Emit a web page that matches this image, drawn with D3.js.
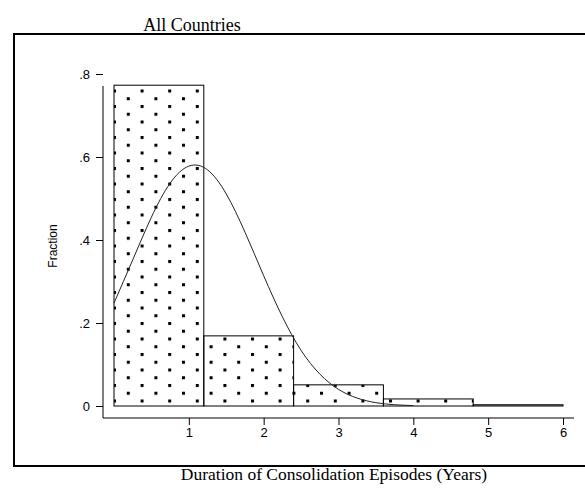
<!DOCTYPE html>
<html>
<head>
<meta charset="utf-8">
<script src="https://cdn.jsdelivr.net/npm/d3@7"></script>
<style>
  body { margin: 0; background: #fff; }
  svg { display: block; }
</style>
</head>
<body>
<div id="chart"></div>
<script>
// histogram bins (years) and fractions
const binStarts = [0, 1.2, 2.4, 3.6, 4.8];
const binEnds = [1.2, 2.4, 3.6, 4.8, 6.0];
const fractions = [0.773, 0.169, 0.051, 0.017, 0.003];

// fitted normal curve
const curveX = [0, 0.25, 0.5, 0.75, 1.0, 1.25, 1.5, 1.75, 2.0, 2.25, 2.5, 2.75, 3.0, 3.25, 3.5, 3.75, 4.0];
const curveY = [0.248, 0.352, 0.455, 0.537, 0.578, 0.569, 0.511, 0.419, 0.314, 0.215, 0.134, 0.077, 0.040, 0.019, 0.008, 0.003, 0.001];

const yTicks = [0, 0.2, 0.4, 0.6, 0.8];
const yTickLabels = ['0', '.2', '.4', '.6', '.8'];
const xTicks = [1, 2, 3, 4, 5, 6];

const title = 'All Countries';
const xTitle = 'Duration of Consolidation Episodes (Years)';
const yTitle = 'Fraction';

const width = 585, height = 493;
const serif = '"Liberation Serif", "Times New Roman", serif';
const sans = '"Liberation Sans", Arial, sans-serif';

const x = d3.scaleLinear().domain([0, 6]).range([114, 563]);
const y = d3.scaleLinear().domain([0, 0.8]).range([406, 74]);

const axisX = 103;   // y axis line position
const axisY = 418;   // x axis line position

const svg = d3.select('#chart').append('svg')
  .attr('width', width)
  .attr('height', height);

// dotted fill pattern
const defs = svg.append('defs');
const pat = defs.append('pattern')
  .attr('id', 'dots')
  .attr('patternUnits', 'userSpaceOnUse')
  .attr('x', 113)
  .attr('y', 399.5)
  .attr('width', 27.6)
  .attr('height', 15.5);
pat.append('rect').attr('x', 0).attr('y', 0).attr('width', 3).attr('height', 3).attr('fill', '#000');
pat.append('rect').attr('x', 13.8).attr('y', 7.75).attr('width', 3).attr('height', 3).attr('fill', '#000');

// outer frame (left, top, bottom)
svg.append('path')
  .attr('d', `M${width},34 H14 V466 H${width}`)
  .attr('fill', 'none')
  .attr('stroke', '#000')
  .attr('stroke-width', 2);

// title
svg.append('text')
  .attr('x', 192)
  .attr('y', 31)
  .attr('text-anchor', 'middle')
  .attr('font-family', serif)
  .attr('font-size', 18)
  .text(title);

// bars
const bars = binStarts.map((s, i) => ({ x0: s, x1: binEnds[i], v: fractions[i] }));
svg.append('g').selectAll('rect')
  .data(bars)
  .join('rect')
    .attr('x', d => x(d.x0))
    .attr('y', d => y(d.v))
    .attr('width', d => x(d.x1) - x(d.x0))
    .attr('height', d => y(0) - y(d.v))
    .attr('fill', 'url(#dots)')
    .attr('stroke', '#000')
    .attr('stroke-width', 1);

// normal curve
const line = d3.line()
  .x(d => x(d[0]))
  .y(d => y(d[1]))
  .curve(d3.curveNatural);
svg.append('path')
  .datum(curveX.map((v, i) => [v, curveY[i]]))
  .attr('d', line)
  .attr('fill', 'none')
  .attr('stroke', '#222')
  .attr('stroke-width', 1);

// y axis
const gy = svg.append('g')
  .attr('transform', `translate(${axisX},0)`)
  .call(d3.axisLeft(y).tickValues(yTicks).tickSize(7).tickPadding(6)
    .tickFormat((d, i) => yTickLabels[i]));
gy.select('.domain').remove();
gy.append('line')
  .attr('x1', 0).attr('x2', 0)
  .attr('y1', 86).attr('y2', axisY)
  .attr('stroke', '#000');
gy.selectAll('.tick line').attr('stroke', '#000');
gy.selectAll('.tick text')
  .attr('font-family', sans)
  .attr('font-size', 13)
  .attr('fill', '#000');

// x axis
const gx = svg.append('g')
  .attr('transform', `translate(0,${axisY})`)
  .call(d3.axisBottom(x).tickValues(xTicks).tickSize(7).tickPadding(3)
    .tickFormat(d3.format('d')));
gx.select('.domain').remove();
gx.append('line')
  .attr('x1', axisX).attr('x2', 574)
  .attr('y1', 0).attr('y2', 0)
  .attr('stroke', '#000');
gx.selectAll('.tick line').attr('stroke', '#000');
gx.selectAll('.tick text')
  .attr('font-family', sans)
  .attr('font-size', 13)
  .attr('fill', '#000');

// axis titles
svg.append('text')
  .attr('transform', 'translate(57,246) rotate(-90)')
  .attr('text-anchor', 'middle')
  .attr('font-family', sans)
  .attr('font-size', 12)
  .text(yTitle);

svg.append('text')
  .attr('x', 334)
  .attr('y', 480)
  .attr('text-anchor', 'middle')
  .attr('font-family', serif)
  .attr('font-size', 17.5)
  .text(xTitle);
</script>
</body>
</html>
